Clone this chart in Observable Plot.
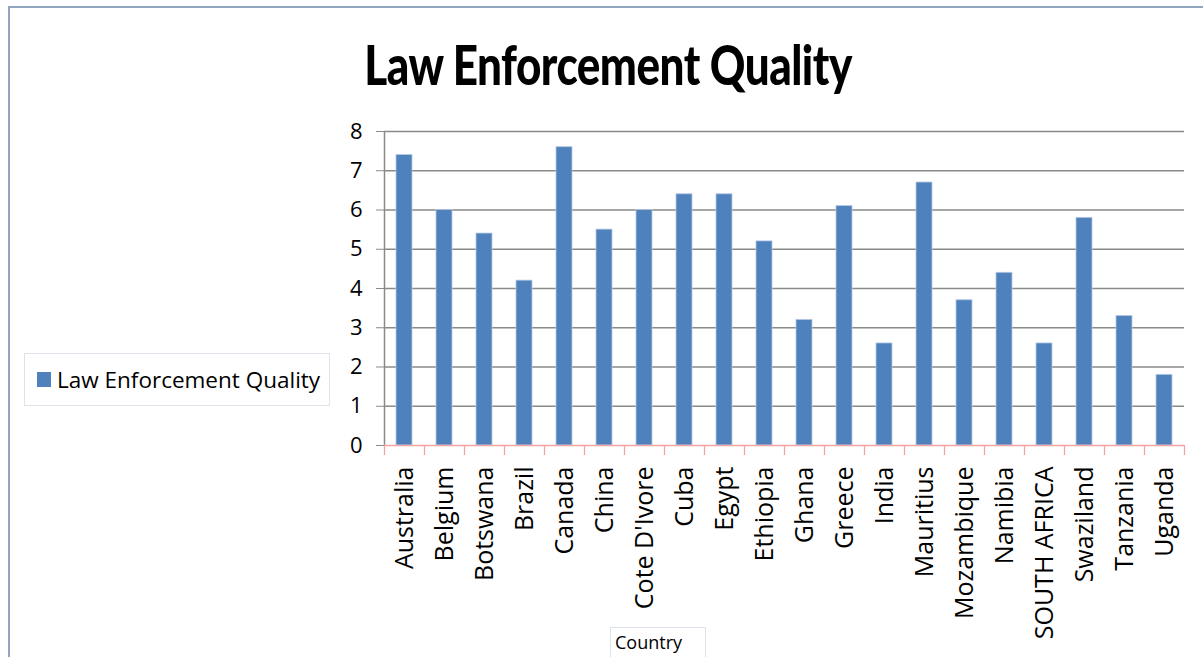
<!DOCTYPE html>
<html>
<head>
<meta charset="utf-8">
<script src="https://cdn.jsdelivr.net/npm/d3@7"></script>
<script src="https://cdn.jsdelivr.net/npm/@observablehq/plot@0.6"></script>
<style>
  html, body { margin: 0; padding: 0; background: #fff; }
  #wrap { position: relative; width: 1203px; height: 657px; overflow: hidden; font-family: "Open Sans", sans-serif; }
  #frame { position: absolute; left: 8px; top: 6px; width: 1300px; height: 700px; border-left: 2px solid #8fa5c0; border-top: 2px solid #8fa5c0; box-sizing: border-box; }
  #title { position: absolute; left: 0; width: 1216px; top: 31px; text-align: center; font-family: Lato, sans-serif; font-weight: 900; font-size: 44px; color: #000; transform: scaleY(1.25); transform-origin: center top; letter-spacing: -0.5px; }
  #legend { position: absolute; left: 24px; top: 353px; width: 306px; height: 53px; border: 1px solid #dde3ea; box-sizing: border-box; display: flex; align-items: center; padding-left: 12px; font-size: 22.5px; color: #000; white-space: nowrap; }
  #legend .sw { width: 14px; height: 15px; background: #4f81bd; margin-right: 6px; flex: none; }
  #xtitle { position: absolute; left: 610px; top: 627px; width: 96px; height: 40px; border: 1px solid #dde3ea; box-sizing: border-box; padding-left: 4px; padding-top: 2px; font-size: 18px; color: #000; }
  #chart { position: absolute; left: 0; top: 0; }
</style>
</head>
<body>
<div id="wrap">
  <div id="chart"></div>
  <div id="frame"></div>
  <div id="title">Law Enforcement Quality</div>
  <div id="legend"><span class="sw"></span><span id="legendLabel"></span></div>
  <div id="xtitle">Country</div>
</div>
<script>
const countries = ["Australia","Belgium","Botswana","Brazil","Canada","China","Cote D'Ivore","Cuba","Egypt","Ethiopia","Ghana","Greece","India","Mauritius","Mozambique","Namibia","SOUTH AFRICA","Swaziland","Tanzania","Uganda"];
const values = [7.4,6.0,5.4,4.2,7.6,5.5,6.0,6.4,6.4,5.2,3.2,6.1,2.6,6.7,3.7,4.4,2.6,5.8,3.3,1.8];
const yTicks = [0,1,2,3,4,5,6,7,8];
const seriesName = "Law Enforcement Quality";

document.getElementById("legendLabel").textContent = seriesName;

const data = countries.map((c, i) => ({country: c, value: values[i]}));
const W = 1203, H = 657, mL = 384, mR = 19, mT = 131, mB = 212;
const step = (W - mR - mL) / countries.length;
const plotH = H - mT - mB;

const chart = Plot.plot({
  width: W,
  height: H,
  marginLeft: mL,
  marginRight: mR,
  marginTop: mT,
  marginBottom: mB,
  style: {background: "transparent", fontFamily: "'Open Sans', sans-serif", color: "#000"},
  x: {domain: countries, paddingInner: 0.6, paddingOuter: 0.3, label: null},
  y: {domain: [0, 8], ticks: yTicks, label: null},
  marks: [
    Plot.gridY(yTicks.filter(d => d > 0), {stroke: "#8a8a8a", strokeOpacity: 1, strokeWidth: 1.6}),
    Plot.ruleX([countries[0]], {x: d => d, dx: -step / 2, y1: 0, y2: 8, stroke: "#8a8a8a", strokeWidth: 1.5}),
    Plot.axisY({ticks: yTicks, tickSize: 8, tickPadding: 14, fontSize: 22, stroke: "#8a8a8a", tickFormat: d => String(d), anchor: "left"}),
    Plot.barY(data, {x: "country", y: "value", fill: "#4f81bd", stroke: "#b3c8e3", strokeWidth: 0.8}),
    Plot.ruleY([0], {stroke: "#f4a3a3", strokeWidth: 1.5}),
    Plot.tickX(data, {x: "country", dx: -step / 2, stroke: "#f4a3a3", strokeWidth: 1.3, insetTop: plotH, insetBottom: -10}),
    Plot.tickX([countries[countries.length - 1]], {x: d => d, dx: step / 2, stroke: "#f4a3a3", strokeWidth: 1.3, insetTop: plotH, insetBottom: -10}),
    Plot.axisX({tickSize: 0, tickRotate: -90, tickPadding: 21, fontSize: 25, anchor: "bottom", textAnchor: "end"})
  ]
});
document.getElementById("chart").appendChild(chart);
</script>
</body>
</html>
